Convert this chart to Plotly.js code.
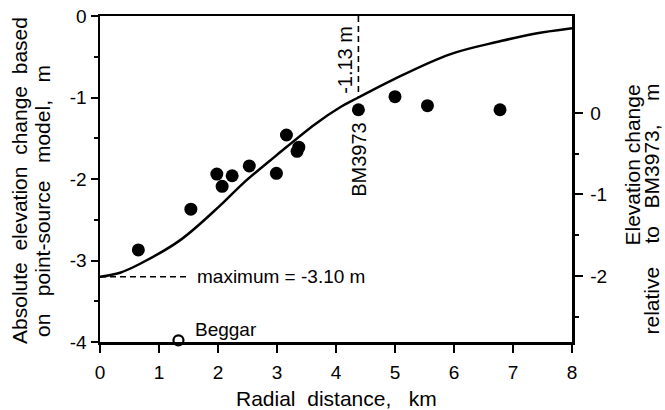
<!DOCTYPE html>
<html>
<head>
<meta charset="utf-8">
<script src="https://cdn.plot.ly/plotly-3.0.1.min.js"></script>
<style>html,body{margin:0;padding:0;background:#fff;}#chart{width:665px;height:410px;}</style>
</head>
<body>
<div id="chart"></div>
<script>
// Observed leveling data (radial distance km, elevation change m)
const obsDist = [0.65, 1.54, 1.98, 2.07, 2.24, 2.53, 2.99, 3.16, 3.34, 3.37, 4.38, 5.00, 5.55, 6.78];
const obsElev = [-2.87, -2.37, -1.94, -2.09, -1.96, -1.84, -1.93, -1.46, -1.66, -1.61, -1.15, -0.99, -1.10, -1.15];
// Beggar benchmark (open circle)
const beggarDist = [1.33];
const beggarElev = [-3.98];
// Point-source model curve
const modelDist = [0, 0.34, 0.68, 1.36, 2.03, 2.43, 2.99, 3.64, 4.07, 4.38, 4.97, 5.93, 6.78, 7.34, 8.0];
const modelElev = [-3.20, -3.15, -3.04, -2.75, -2.33, -2.05, -1.71, -1.33, -1.12, -1.00, -0.78, -0.47, -0.31, -0.22, -0.15];
// Reference dashed lines
const maxLineX = [0, 1.47];
const maxLineY = [-3.20, -3.20];
const bmLineX = [4.38, 4.38];
const bmLineY = [0, -1.00];
// Axis ticks
const xTicks = [0, 1, 2, 3, 4, 5, 6, 7, 8];
const yTicks = [0, -1, -2, -3, -4];
const yMinor = [-0.5, -1.5, -2.5, -3.5];
const y2Ticks = [0, -1, -2];
const y2Minor = [-0.5, -1.5, -2.5];
const bmOffset = 1.19; // right axis zero relative to left axis

const FONT = 'Liberation Sans, Arial, Helvetica, sans-serif';
const sp = n => '&nbsp;'.repeat(n);
const traces = [
  {x: modelDist, y: modelElev, mode: 'lines', line: {color: '#000', width: 2.5, shape: 'spline'}, hoverinfo: 'skip'},
  {x: maxLineX, y: maxLineY, mode: 'lines', line: {color: '#000', width: 1.6, dash: '6px,4px'}},
  {x: bmLineX, y: bmLineY, mode: 'lines', line: {color: '#000', width: 1.6, dash: '6px,4px'}},
  {x: obsDist, y: obsElev, mode: 'markers', marker: {color: '#000', size: 13, symbol: 'circle'}},
  {x: beggarDist, y: beggarElev, mode: 'markers', cliponaxis: false, marker: {color: '#000', size: 10, symbol: 'circle-open', line: {width: 2.2, color: '#000'}}},
  {x: [null], y: [null], yaxis: 'y2', mode: 'markers', showlegend: false}
];

const ann = [
  {text: 'maximum = -3.10 m', x: 1.61, y: -3.20, xanchor: 'left', yanchor: 'middle'},
  {text: 'Beggar', x: 1.58, y: -3.85, xanchor: 'left', yanchor: 'middle'},
  {text: 'BM3973', x: 4.39, y: -1.28, xanchor: 'center', yanchor: 'top', textangle: -90, font: {size: 20}},
  {text: '-1.13 m', x: 4.15, y: -0.54, xanchor: 'center', yanchor: 'middle', textangle: -90, font: {size: 20}},
  {text: 'Radial' + sp(2) + 'distance,' + sp(3) + 'km', xref: 'paper', yref: 'paper', x: 0.5, y: -0.172, xanchor: 'center', yanchor: 'middle', font: {size: 21}},
  {text: 'Absolute' + sp(2) + 'elevation' + sp(2) + 'change' + sp(2) + 'based', xref: 'paper', yref: 'paper', x: -0.1695, y: 0.497, xanchor: 'center', yanchor: 'middle', textangle: -90, font: {size: 21}},
  {text: 'on' + sp(3) + 'point-source' + sp(3) + 'model,' + sp(3) + 'm', xref: 'paper', yref: 'paper', x: -0.1229, y: 0.4325, xanchor: 'center', yanchor: 'middle', textangle: -90, font: {size: 21}},
  {text: 'Elevation' + sp(1) + 'change', xref: 'paper', yref: 'paper', x: 1.1292, y: 0.7975, xanchor: 'center', yanchor: 'top', textangle: -90, font: {size: 21}},
  {text: 'relative' + sp(4) + 'to' + sp(3) + 'BM3973,' + sp(4) + 'm', xref: 'paper', yref: 'paper', x: 1.1695, y: 0.7975, xanchor: 'center', yanchor: 'top', textangle: -90, font: {size: 21}}
].map(a => Object.assign({showarrow: false}, a, {font: Object.assign({size: 19, color: '#000', family: FONT}, a.font || {})}));

const layout = {
  width: 665, height: 410,
  margin: {l: 100, r: 93, t: 16, b: 68},
  paper_bgcolor: '#fff', plot_bgcolor: '#fff',
  showlegend: false,
  font: {family: FONT, size: 19, color: '#000'},
  xaxis: {
    range: [0, 8], tickvals: xTicks, ticktext: xTicks.map(String),
    showgrid: false, zeroline: false,
    showline: true, linecolor: '#000', linewidth: 2.5, mirror: true,
    ticks: 'outside', ticklen: 8, tickwidth: 2, tickcolor: '#000',
    ticklabelstandoff: 4
  },
  yaxis: {
    range: [-4, 0], tickvals: yTicks, ticktext: yTicks.map(String),
    showgrid: false, zeroline: false,
    showline: true, linecolor: '#000', linewidth: 2.5, mirror: true,
    ticks: 'outside', ticklen: 7, tickwidth: 2, tickcolor: '#000',
    minor: {tickvals: yMinor, ticks: 'outside', ticklen: 4, tickwidth: 2, tickcolor: '#000', showgrid: false}
  },
  yaxis2: {
    overlaying: 'y', side: 'right',
    range: [-4 + bmOffset, 0 + bmOffset], tickvals: y2Ticks, ticktext: y2Ticks.map(String),
    showgrid: false, zeroline: false,
    showline: true, linecolor: '#000', linewidth: 2.5,
    ticks: 'outside', ticklen: 8, tickwidth: 2, tickcolor: '#000',
    ticklabelstandoff: 4,
    minor: {tickvals: y2Minor, ticks: 'outside', ticklen: 4, tickwidth: 2, tickcolor: '#000', showgrid: false}
  },
  annotations: ann
};

Plotly.newPlot('chart', traces, layout, {staticPlot: true, displayModeBar: false});
</script>
</body>
</html>
